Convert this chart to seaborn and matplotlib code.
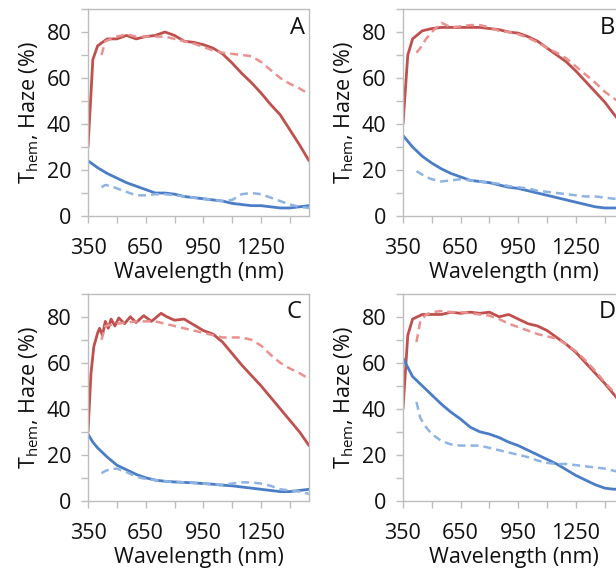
import matplotlib
matplotlib.use("Agg")
from matplotlib import pyplot as plt
from matplotlib.ticker import MultipleLocator, FixedLocator
import seaborn as sns

# wavelength grids (nm)
wl = [350, 375, 400, 450, 500, 550, 600, 650, 700, 750, 800, 850, 900,
      950, 1000, 1050, 1100, 1150, 1200, 1250, 1300, 1350, 1400, 1450, 1500]
wl_dash = [420, 440, 470, 500, 550, 600, 650, 700, 750, 800, 850, 900,
           950, 1000, 1050, 1100, 1150, 1200, 1250, 1300, 1350, 1400, 1450, 1500]
wl_c = [350, 365, 380, 400, 410, 425, 440, 455, 470, 490, 510, 540, 570, 600,
        640, 680, 730, 760, 800, 850, 900, 950, 1000, 1050, 1100, 1150, 1200,
        1250, 1300, 1350, 1400, 1450, 1500]

# panel A
a_t = [30, 68, 74, 77, 77, 78.5, 77, 78, 78.5, 80, 78.5, 76, 75.5, 74.5, 73,
       70.5, 66.5, 62, 58, 53.5, 48.5, 44, 37.5, 31, 24]
a_t_dash = [70, 76, 77, 78, 79, 78, 78, 78, 78, 77, 76, 75, 73.5, 72, 71,
            70.5, 70, 69.5, 67, 63.5, 60, 57.5, 55.5, 53]
a_h = [24, 22.5, 21, 18.5, 16.5, 14.5, 13, 11.5, 10, 10, 9.5, 8.5, 8, 7.5, 7,
       6.5, 5.5, 5, 4.5, 4.5, 4, 3.5, 3.5, 4, 4.5]
a_h_dash = [12.5, 13.5, 13, 12, 10.5, 9, 9, 9.5, 9.5, 9, 8.5, 8, 7.5, 7, 6.5,
            7, 9.5, 10, 9.5, 8, 6.5, 5, 4, 3.5]

# panel B
b_t = [40, 70, 77, 80.5, 81.5, 82, 82, 82, 82, 82, 81.5, 81, 80, 79.5, 78,
       76, 73, 70, 67, 63, 58.5, 54, 49.5, 44, 39]
b_t_dash = [71, 73, 77, 80, 84, 82, 82.5, 83, 83, 82, 80.5, 80, 79, 77.5,
            75.5, 73, 71, 68.5, 65, 61.5, 58, 54, 51, 48]
b_h = [35, 32.5, 30, 26, 23, 20.5, 18.5, 17, 15.5, 15, 14.5, 13.5, 12.5, 12,
       11, 10, 9, 8, 7, 6, 5, 4, 3.5, 3.5, 3.5]
b_h_dash = [19.5, 18.5, 17, 16, 15, 15.5, 16, 15.5, 15, 14.5, 14, 13, 12.5,
            12, 11, 10.5, 10, 9.5, 9, 8.5, 8.5, 8, 7.5, 7]

# panel C (solid T_hem on its own finer grid)
c_t = [30, 55, 67, 73, 75, 72, 78, 75, 79, 76, 79.5, 77, 80, 77.5, 80.5, 78,
       81.5, 80, 78.5, 79, 76.5, 74, 72.5, 69, 64, 59, 54.5, 50, 45, 40, 35,
       30, 24]
c_t_dash = [70, 76, 76.5, 77, 77.5, 78, 78, 78, 77, 76, 75, 74, 73, 72, 71,
            71, 71, 70, 67.5, 63.5, 60, 57.5, 55.5, 53]
c_h = [29, 25.5, 23, 19, 15.5, 13.5, 11.5, 10, 9, 8.5, 8.2, 8, 7.8, 7.5, 7.2,
       6.8, 6.5, 6, 5.5, 5, 4.5, 4, 4, 4.5, 5]
c_h_dash = [12, 13, 13.8, 14, 12.5, 10.5, 9.5, 9, 8.5, 8.2, 8, 7.8, 7.5, 7.2,
            7, 7.5, 8, 8, 7.5, 6.5, 5, 4.5, 4, 3]

# panel D
d_t = [40, 72, 79, 81, 81, 81, 82, 81.5, 82, 81.5, 82, 80, 81, 79, 77, 76,
       74, 71, 68, 64.5, 60, 55.5, 51, 46, 41]
d_t_dash = [69, 78, 81, 82, 82.5, 82, 82, 81.5, 81, 80.5, 79, 77, 75.5, 74,
            72.5, 71.5, 70.5, 68, 65, 61, 56.5, 51.5, 47, 43]
d_h = [62, 58, 54, 50, 46, 42, 38.5, 35.5, 32, 30, 29, 27.5, 25.5, 24, 22,
       20, 18, 16, 13.5, 11, 9, 7, 5.5, 5, 5.5]
d_h_dash = [43, 36, 32, 29, 26, 24.5, 24, 24, 24, 23, 22, 21, 20, 19, 17.5,
            16.5, 16, 16, 15.5, 15, 14.5, 14, 13, 12]

panels = ['A', 'B', 'C', 'D']
t_solid = [(wl, a_t), (wl, b_t), (wl_c, c_t), (wl, d_t)]
t_dash = [a_t_dash, b_t_dash, c_t_dash, d_t_dash]
h_solid = [a_h, b_h, c_h, d_h]
h_dash = [a_h_dash, b_h_dash, c_h_dash, d_h_dash]

sns.set_style('white')
plt.rcParams['font.family'] = ['Open Sans', 'DejaVu Sans']
plt.rcParams['mathtext.fontset'] = 'custom'
plt.rcParams['mathtext.rm'] = 'Open Sans'
plt.rcParams['mathtext.it'] = 'Open Sans'

red = '#C0504D'
red_light = '#E8918F'
blue = '#4A7DC6'
blue_light = '#8FB3E3'
frame = '#BDBDBD'
txt = '#111111'
fs = 15.5

fig = plt.figure(figsize=(6.16, 5.73), dpi=100)
# axes rectangles (right column runs past the figure edge, as in the source)
rects = [[0.1429, 0.623, 0.3588, 0.3613],
         [0.6542, 0.623, 0.3588, 0.3613],
         [0.1429, 0.126, 0.3588, 0.3613],
         [0.6542, 0.126, 0.3588, 0.3613]]
letter_x = [0.95, 0.925, 0.93, 0.925]

for i, name in enumerate(panels):
    ax = fig.add_axes(rects[i])
    xs, ys = t_solid[i]
    sns.lineplot(x=xs, y=ys, ax=ax, color=red, linewidth=2)
    sns.lineplot(x=wl_dash, y=t_dash[i], ax=ax, color=red_light,
                 linewidth=1.8, linestyle=(0, (3.2, 2)))
    sns.lineplot(x=wl, y=h_solid[i], ax=ax, color=blue, linewidth=2)
    sns.lineplot(x=wl_dash, y=h_dash[i], ax=ax, color=blue_light,
                 linewidth=1.8, linestyle=(0, (3.2, 2)))

    ax.set_xlim(350, 1500)
    ax.set_ylim(0, 90)
    ax.xaxis.set_major_locator(FixedLocator([350, 650, 950, 1250]))
    ax.xaxis.set_minor_locator(FixedLocator([500, 800, 1100, 1400]))
    ax.yaxis.set_major_locator(MultipleLocator(20))
    ax.yaxis.set_minor_locator(MultipleLocator(10))
    ax.tick_params(which='both', direction='out', length=5, width=1,
                   color=frame, bottom=True, left=True)
    ax.tick_params(axis='x', which='major', labelsize=fs, pad=11,
                   labelcolor=txt)
    ax.tick_params(axis='y', which='major', labelsize=fs, pad=7,
                   labelcolor=txt)
    for sp in ax.spines.values():
        sp.set_color(frame)
        sp.set_linewidth(1)
    ax.set_xlabel('Wavelength (nm)', fontsize=fs, labelpad=2, color=txt)
    ax.set_ylabel(r'T$_{\mathrm{hem}}$, Haze (%)', fontsize=fs,
                  labelpad=4, color=txt)
    ax.text(letter_x[i], 0.91, name, transform=ax.transAxes, fontsize=17,
            ha='center', va='center', color=txt)

fig.savefig('out.png', dpi=100)
